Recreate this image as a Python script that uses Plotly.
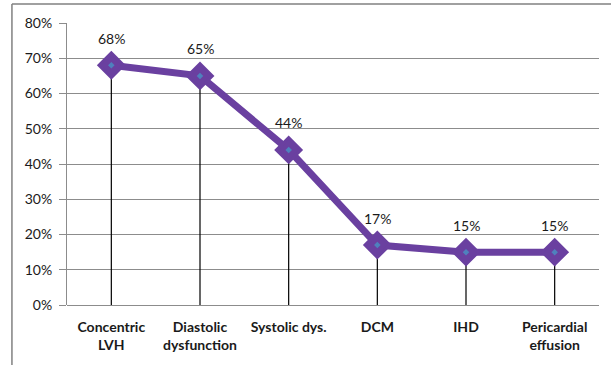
import plotly.graph_objects as go

categories = ["Concentric<br>LVH", "Diastolic<br>dysfunction", "Systolic dys.", "DCM", "IHD", "Pericardial<br>effusion"]
values = [68, 65, 44, 17, 15, 15]
y_ticks = [0, 10, 20, 30, 40, 50, 60, 70, 80]
y_tick_labels = [f"{t}%" for t in y_ticks]

purple = "#6A40A0"
grid = "#8C8C8C"
font_family = "Lato, 'Open Sans', sans-serif"

fig = go.Figure()

# drop lines from each point to the axis
drop_x, drop_y = [], []
for c, v in zip(categories, values):
    drop_x += [c, c, None]
    drop_y += [0, v, None]
fig.add_trace(go.Scatter(x=drop_x, y=drop_y, mode="lines",
                         line=dict(color="black", width=1.2),
                         hoverinfo="skip", showlegend=False))

# main line with diamond markers
fig.add_trace(go.Scatter(x=categories, y=values, mode="lines+markers",
                         line=dict(color=purple, width=7),
                         marker=dict(symbol="diamond", size=19, color=purple,
                                     line=dict(color=purple, width=3)),
                         showlegend=False))
# small blue centre of each marker
fig.add_trace(go.Scatter(x=categories, y=values, mode="markers",
                         marker=dict(symbol="diamond", size=5, color="#4F81BD"),
                         hoverinfo="skip", showlegend=False))

for c, v in zip(categories, values):
    fig.add_annotation(x=c, y=v, text=f"{v}%", showarrow=False, yshift=27,
                       font=dict(family=font_family, size=14, color="#1a1a1a"))

# outer chart frame (left and top edges)
fig.add_shape(type="line", xref="paper", yref="paper", x0=-0.1035, x1=1.03,
              y0=1.067, y1=1.067, line=dict(color="#808080", width=1.5))
fig.add_shape(type="line", xref="paper", yref="paper", x0=-0.1035, x1=-0.1035,
              y0=1.067, y1=-0.3, line=dict(color="#808080", width=1.5))

fig.update_layout(
    width=611, height=365,
    margin=dict(l=67, r=12, t=23, b=60),
    paper_bgcolor="white", plot_bgcolor="white",
    font=dict(family=font_family, color="#1a1a1a"),
    xaxis=dict(type="category", showgrid=False, zeroline=False,
               showline=False, ticks="", range=[-0.5, 5.5],
               ticklabelstandoff=12,
               tickfont=dict(family=font_family, size=14, color="#1a1a1a",
                             weight="bold")),
    yaxis=dict(range=[0, 80], tickvals=y_ticks, ticktext=y_tick_labels,
               showgrid=True, gridcolor=grid, gridwidth=1,
               showline=True, linecolor=grid, linewidth=1,
               ticks="outside", ticklen=7, tickcolor=grid,
               ticklabelstandoff=4,
               zeroline=True, zerolinecolor=grid, zerolinewidth=1,
               tickfont=dict(family=font_family, size=14, color="#1a1a1a")),
)

fig.write_html("out.html")
